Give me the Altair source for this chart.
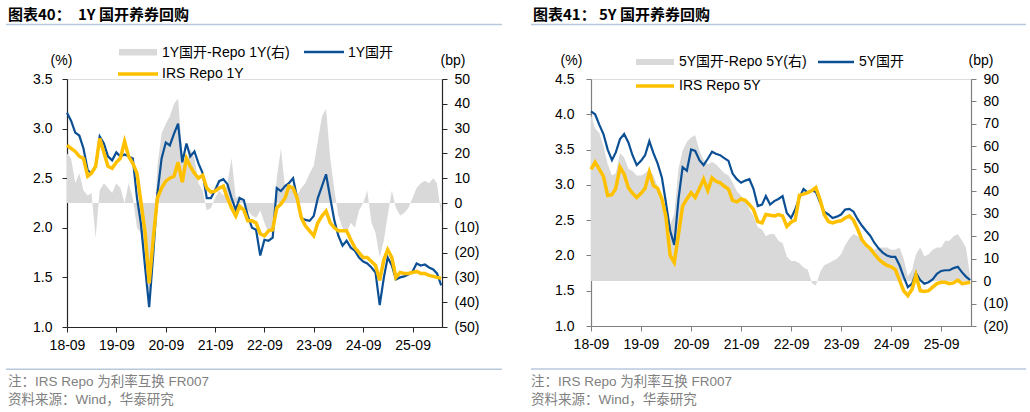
import altair as alt
import pandas as pd

# ---------------- data (monthly readings, 2018-09 .. 2026-04) ----------------
dates = pd.date_range("2018-09-01", periods=92, freq="MS").strftime("%Y-%m-%d").tolist()

cdb1y = [3.16, 3.08, 2.96, 2.93, 2.80, 2.58, 2.55, 2.62, 2.92, 2.85,
         2.72, 2.68, 2.76, 2.72, 2.74, 2.72, 2.70, 2.30, 2.04, 1.60,
         1.20, 1.75, 2.35, 2.70, 2.86, 2.83, 2.95, 3.05, 2.66, 2.85,
         2.72, 2.77, 2.65, 2.55, 2.30, 2.30, 2.38, 2.47, 2.49, 2.44,
         2.30, 2.18, 2.30, 2.28, 2.12, 2.00, 1.98, 1.72, 1.88, 1.87,
         1.90, 2.40, 2.37, 2.42, 2.45, 2.50, 2.30, 2.10, 2.08, 2.07,
         2.12, 2.30, 2.42, 2.54, 2.30, 2.07, 1.92, 1.82, 1.87, 1.80,
         1.77, 1.70, 1.66, 1.64, 1.60, 1.55, 1.22, 1.50, 1.70, 1.62,
         1.48, 1.50, 1.51, 1.53, 1.56, 1.64, 1.62, 1.63, 1.60, 1.58,
         1.54, 1.42]
irs1y = [2.83, 2.80, 2.77, 2.72, 2.70, 2.52, 2.55, 2.62, 2.90, 2.76,
         2.62, 2.60, 2.66, 2.70, 2.87, 2.72, 2.65, 2.55, 2.26, 1.95,
         1.44, 1.90, 2.30, 2.40, 2.47, 2.50, 2.52, 2.66, 2.46, 2.70,
         2.62, 2.55, 2.50, 2.53, 2.40, 2.36, 2.37, 2.40, 2.42, 2.30,
         2.20, 2.12, 2.22, 2.18, 2.07, 2.07, 2.05, 1.94, 1.92, 1.97,
         1.98, 2.20, 2.24, 2.30, 2.42, 2.40, 2.30, 2.10, 2.02, 1.97,
         1.92, 2.05, 2.12, 2.17, 2.05, 2.00, 1.97, 1.97, 1.97, 1.88,
         1.80, 1.75, 1.70, 1.70, 1.66, 1.62, 1.47, 1.68, 1.78, 1.70,
         1.50, 1.55, 1.54, 1.54, 1.55, 1.56, 1.54, 1.54, 1.52, 1.51,
         1.50, 1.49]
spr1y = [20, 18, 8, 12, 5, 3, 4, -14, 5, 8,
         6, 4, 8, 6, 0, 8, 2, -10, -12, -25,
         -38, -18, 15, 28, 32, 35, 40, 42, 20, 15,
         22, 18, 8, 5, -3, -2, 2, 5, 3, 8,
         18, 2, 3, 0, -3, -5, -6, -3, -8, -12,
         -10, 10, 22, 6, 8, 6, 3, 6, 8, 12,
         15, 25, 35, 38, 18, 5, -5, -10, -12, -8,
         -10, -3, 0, 5, -8, -12, -22, -15, -5, 5,
         -2, -5, -4, -2, 2, 6, 8, 9, 8, 10,
         8, -5]

cdb5y = [4.04, 4.00, 3.85, 3.72, 3.50, 3.35, 3.46, 3.65, 3.72, 3.60,
         3.42, 3.28, 3.34, 3.42, 3.62, 3.45, 3.30, 3.10, 2.75, 2.35,
         2.15, 2.80, 3.25, 3.20, 3.50, 3.48, 3.35, 3.28, 3.37, 3.47,
         3.44, 3.42, 3.38, 3.34, 3.16, 3.08, 3.03, 3.06, 3.08, 2.94,
         2.70, 2.72, 2.84, 2.72, 2.77, 2.80, 2.84, 2.60, 2.53, 2.65,
         2.82, 2.94, 2.89, 2.92, 2.90, 2.75, 2.62, 2.58, 2.53, 2.55,
         2.58, 2.65, 2.66, 2.62, 2.51, 2.42, 2.35, 2.28, 2.18, 2.10,
         2.04, 2.00, 1.98, 1.98, 1.86, 1.70, 1.55, 1.60, 1.75, 1.65,
         1.60, 1.62, 1.66, 1.74, 1.78, 1.79, 1.79, 1.82, 1.84, 1.76,
         1.70, 1.65]
irs5y = [3.22, 3.32, 3.22, 3.12, 2.85, 2.86, 2.95, 3.25, 3.15, 2.96,
         2.88, 2.82, 2.88, 2.95, 3.18, 2.99, 2.95, 2.80, 2.55, 2.00,
         1.90, 2.30, 2.70, 2.80, 2.89, 2.82, 2.95, 3.08, 2.92, 3.10,
         3.05, 3.03, 2.98, 2.94, 2.78, 2.76, 2.80, 2.78, 2.72, 2.65,
         2.48, 2.46, 2.58, 2.57, 2.56, 2.58, 2.56, 2.41, 2.47, 2.50,
         2.85, 2.87, 2.89, 2.92, 2.96, 2.79, 2.58, 2.48, 2.46, 2.48,
         2.49, 2.53, 2.56, 2.50, 2.37, 2.22, 2.15, 2.10, 2.02, 1.95,
         1.90, 1.86, 1.84, 1.80, 1.65, 1.50, 1.43, 1.52, 1.72, 1.50,
         1.49, 1.50, 1.55, 1.60, 1.62, 1.62, 1.60, 1.61, 1.65, 1.60,
         1.61, 1.62]
spr5y = [74, 68, 66, 60, 52, 47, 48, 57, 55, 50,
         49, 47, 47, 48, 50, 47, 42, 38, 30, 25,
         30, 50, 58, 62, 64, 65, 58, 54, 52, 53,
         52, 50, 48, 47, 44, 40, 38, 36, 32, 29,
         24, 23, 20, 21, 21, 18, 17, 11, 9, 9,
         8, 6, 5, -1, -2, 4, 7, 8, 9, 10,
         12, 16, 19, 21, 20, 19, 17, 15, 14, 15,
         15, 15, 14, 14, 15, 10, 2, 5, 12, 15,
         11, 12, 14, 15, 15, 18, 18, 20, 21, 18,
         15, 2]

left_ticks_1y = [1.0, 1.5, 2.0, 2.5, 3.0, 3.5]
right_ticks_1y = list(range(-50, 51, 10))
left_ticks_5y = [1.0, 1.5, 2.0, 2.5, 3.0, 3.5, 4.0, 4.5]
right_ticks_5y = list(range(-20, 91, 10))
x_tick_years = list(range(2018, 2026))

FONT = "Liberation Sans, Arial, Noto Sans CJK SC"
CJK = "Noto Sans CJK SC"
BLUE = "#0b4f94"
GOLD = "#ffc000"
GREY = "#d9d9d9"
SEP = "#b8c9dc"
NOTE = "#808080"


def one():
    return pd.DataFrame({"a": [0]})


def txt(s, x, y, size=14, color="#000", weight="normal", font=FONT, align="left"):
    return alt.Chart(pd.DataFrame({"t": [s]})).mark_text(
        align=align, baseline="middle", fontSize=size, color=color,
        fontWeight=weight, font=font
    ).encode(x=alt.value(x), y=alt.value(y), text="t:N")


def hrule(x1, x2, y, color, w, opacity=1.0):
    return alt.Chart(one()).mark_rule(color=color, strokeWidth=w, opacity=opacity).encode(
        x=alt.value(x1), x2=alt.value(x2), y=alt.value(y))


def swatch(x1, x2, y1, y2):
    return alt.Chart(one()).mark_rect(color=GREY).encode(
        x=alt.value(x1), x2=alt.value(x2), y=alt.value(y1), y2=alt.value(y2))


def panel(cdb, irs, spr, W, H, ldom, lvals, rdom, rvals, axis_col, lpad, deco):
    df = pd.DataFrame({"date": dates, "cdb": cdb, "irs": irs, "spr": spr})
    base = alt.Chart(df)
    xenc = alt.X(
        "date:T",
        scale=alt.Scale(domain=[alt.DateTime(year=2018, month=9, date=1),
                                alt.DateTime(year=2026, month=4, date=7)]),
        axis=alt.Axis(values=[alt.DateTime(year=y, month=9, date=1) for y in x_tick_years],
                      format="%y-%m", title=None, labelFlush=False, labelOverlap=False,
                      grid=False, tickSize=5, labelPadding=6, domainColor=axis_col,
                      tickColor=axis_col, labelColor="#000", labelFontSize=14,
                      labelFont=FONT, domainWidth=1.2),
    )
    right_axis = alt.Axis(orient="right", values=rvals, title=None, grid=False,
                          tickSize=5, labelPadding=7, domainColor=axis_col,
                          tickColor=axis_col, labelColor="#000", labelFontSize=14,
                          labelFont=FONT, domainWidth=1.2,
                          labelExpr="datum.value < 0 ? '(' + abs(datum.value) + ')' : '' + datum.value")
    left_axis = alt.Axis(orient="left", values=lvals, format=".1f", title=None, grid=False,
                         tickSize=5, labelPadding=lpad, domainColor=axis_col,
                         tickColor=axis_col, labelColor="#000", labelFontSize=14,
                         labelFont=FONT, domainWidth=1.2)
    area = base.mark_area(color=GREY).encode(
        x=xenc,
        y=alt.Y("spr:Q", scale=alt.Scale(domain=rdom, nice=False, zero=False), axis=right_axis))
    blue = base.mark_line(color=BLUE, strokeWidth=2.2).encode(
        x=xenc,
        y=alt.Y("cdb:Q", scale=alt.Scale(domain=ldom, nice=False, zero=False), axis=left_axis))
    gold = base.mark_line(color=GOLD, strokeWidth=3.5).encode(
        x=xenc,
        y=alt.Y("irs:Q", scale=alt.Scale(domain=ldom, nice=False, zero=False), axis=left_axis))
    lines = alt.layer(blue, gold)
    return alt.layer(area, lines, *deco).resolve_scale(y="independent").properties(width=W, height=H)


# left panel: plot origin at (66, 78)
deco1 = [
    hrule(-66, -65, -78, "#ffffff", 1, opacity=0),
    txt("图表40：", -59, -64, size=15, weight="bold", font=CJK),
    txt("1Y 国开养券回购", 11, -64, size=15, weight="bold", font=CJK),
    hrule(-61, 435, -54.5, SEP, 1.5),
    txt("(%)", -5.5, -18, align="center"),
    txt("(bp)", 386, -18, align="center"),
    swatch(52, 90, -30, -23.5),
    txt("1Y国开-Repo 1Y(右)", 95, -26.5),
    hrule(237, 277, -27, BLUE, 2.5),
    txt("1Y国开", 281, -26.5),
    hrule(51, 91, -5, GOLD, 3.5),
    txt("IRS Repo 1Y", 95, -5),
    hrule(-61, 435, 290.3, SEP, 1.5),
    txt("注：IRS Repo 为利率互换 FR007", -59, 302.5, size=13.5, color=NOTE),
    txt("资料来源：Wind，华泰研究", -59, 321, size=13.5, color=NOTE),
]

# right panel: plot origin at (590, 78)
deco2 = [
    txt("图表41：", -58, -64, size=15, weight="bold", font=CJK),
    txt("5Y 国开养券回购", 8, -64, size=15, weight="bold", font=CJK),
    hrule(-60, 435, -54.5, SEP, 1.5),
    txt("(%)", -19.5, -18, align="center"),
    txt("(bp)", 390, -18, align="center"),
    swatch(45, 83, -20, -14),
    txt("5Y国开-Repo 5Y(右)", 88, -17),
    hrule(227, 263, -17, BLUE, 2.5),
    txt("5Y国开", 268, -17),
    hrule(45, 83, 7, GOLD, 3.5),
    txt("IRS Repo 5Y", 88, 7),
    hrule(-60, 435, 290, SEP, 1.5),
    txt("注：IRS Repo 为利率互换 FR007", -60, 302.5, size=13.5, color=NOTE),
    txt("资料来源：Wind，华泰研究", -60, 321, size=13.5, color=NOTE),
]

p1 = panel(cdb1y, irs1y, spr1y, 375, 248, [1.0, 3.5], left_ticks_1y, [-50, 50],
           right_ticks_1y, "#262626", 10, deco1)
p2 = panel(cdb5y, irs5y, spr5y, 380, 247, [1.0, 4.5], left_ticks_5y, [-20, 90],
           right_ticks_5y, "#7f7f7f", 12, deco2)

chart = alt.hconcat(p1, p2, spacing=149, bounds="flush", padding=0).configure_view(
    stroke=None).configure(background="white")

chart.save("out.html", embed_options={"renderer": "svg", "actions": False})
